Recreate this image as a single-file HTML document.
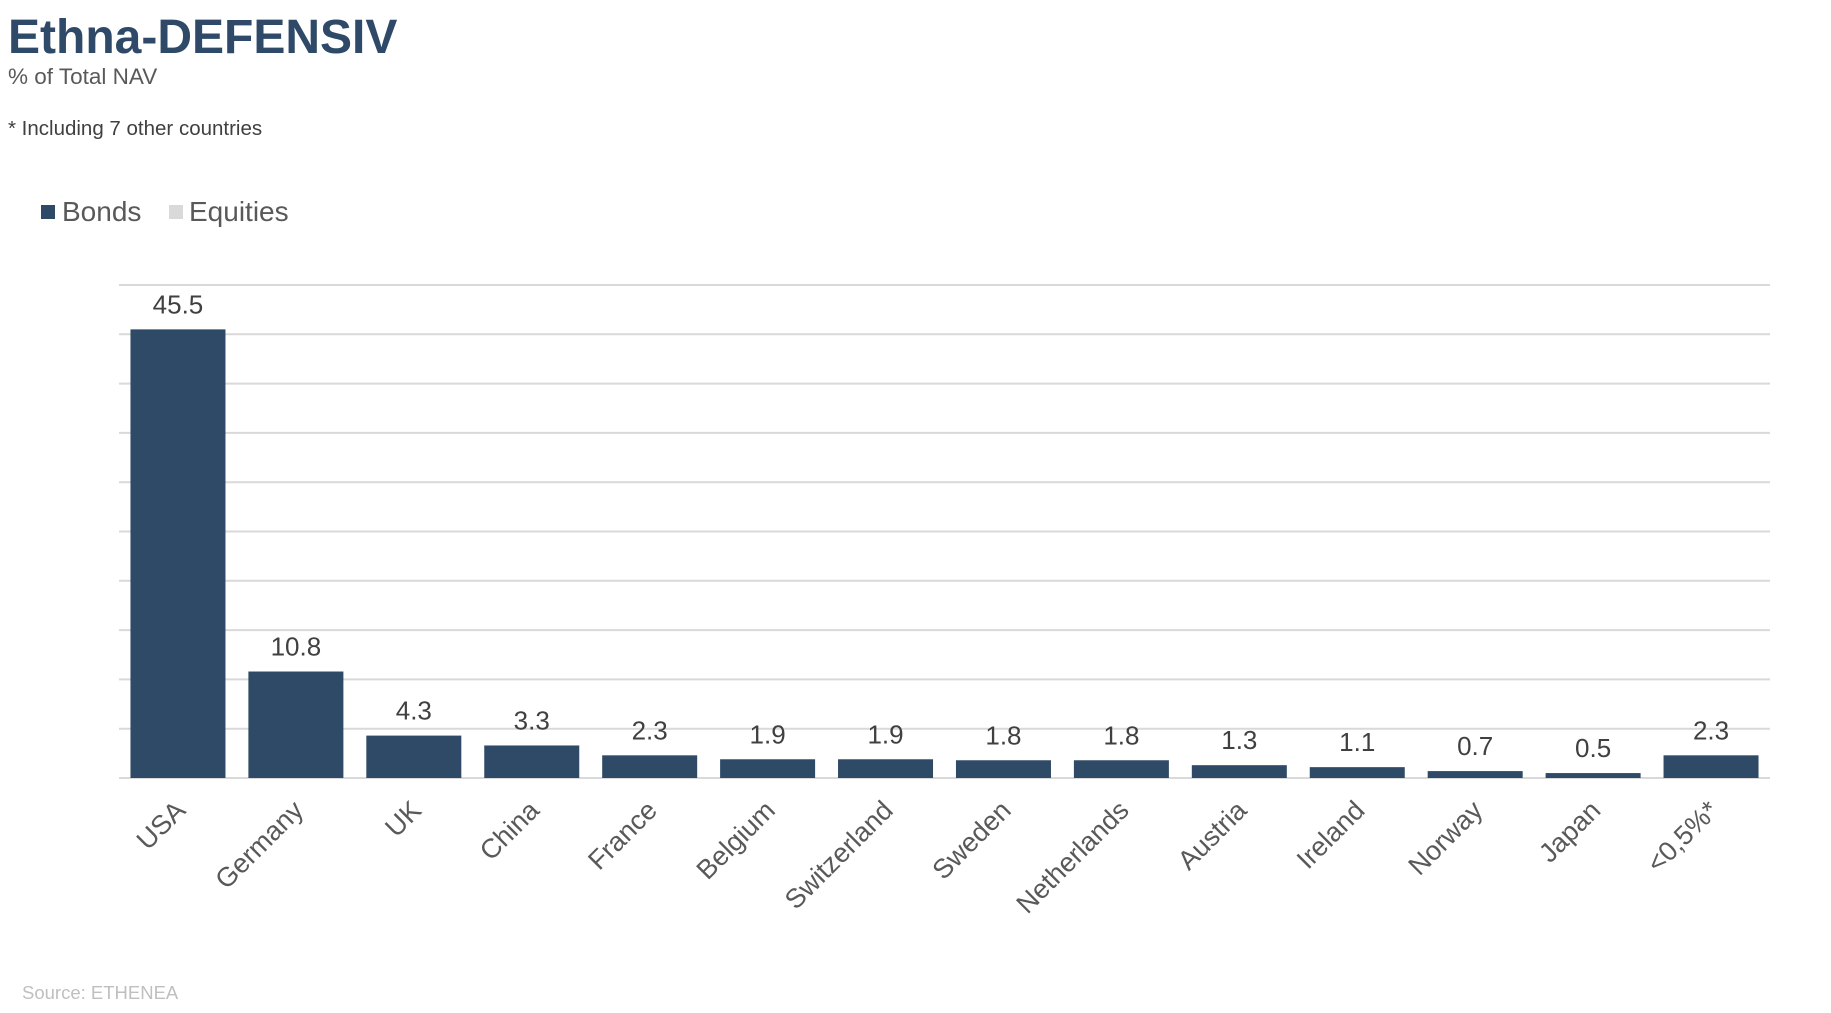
<!DOCTYPE html>
<html><head><meta charset="utf-8"><style>
body{margin:0;background:#fff;font-family:"Liberation Sans",Arial,sans-serif;}
svg{display:block}
</style></head><body>
<svg width="1831" height="1013" viewBox="0 0 1831 1013">
<text x="8" y="53" font-size="48" font-weight="bold" fill="#2e4a68">Ethna-DEFENSIV</text>
<text x="8" y="84" font-size="22.5" fill="#595959">% of Total NAV</text>
<text x="8" y="135" font-size="20.5" fill="#404040">* Including 7 other countries</text>
<g>
<rect x="41" y="205" width="14" height="14" fill="#2f4a66"/>
<text x="62" y="221" font-size="28" fill="#595959">Bonds</text>
<rect x="169" y="205" width="14" height="14" fill="#d9d9d9"/>
<text x="189" y="221" font-size="28" fill="#595959">Equities</text>
</g>
<g id="grid"></g>
<g id="bars"></g>
<g id="vals"></g>
<g id="cats"></g>
<text x="22" y="999" font-size="18.5" fill="#bfbfbf">Source: ETHENEA</text>
</svg>
<script>
const categories = ["USA","Germany","UK","China","France","Belgium","Switzerland","Sweden","Netherlands","Austria","Ireland","Norway","Japan","<0,5%*"];
const bonds = [45.5,10.8,4.3,3.3,2.3,1.9,1.9,1.8,1.8,1.3,1.1,0.7,0.5,2.3];
const valueLabels = ["45.5","10.8","4.3","3.3","2.3","1.9","1.9","1.8","1.8","1.3","1.1","0.7","0.5","2.3"];
const yTicks = [0,5,10,15,20,25,30,35,40,45,50];

const NS="http://www.w3.org/2000/svg";
const X0=119, X1=1770, Y0=778, Y1=285, YMAX=50;
const slot=(X1-X0)/categories.length, bw=95;
function y(v){return Y0-(v/YMAX)*(Y0-Y1);}
function xc(i){return X0+slot*(i+0.5);}
const grid=document.getElementById('grid'), bars=document.getElementById('bars'), vals=document.getElementById('vals'), cats=document.getElementById('cats');
yTicks.forEach(t=>{
  const l=document.createElementNS(NS,'line');
  l.setAttribute('x1',X0);l.setAttribute('x2',X1);
  l.setAttribute('y1',y(t));l.setAttribute('y2',y(t));
  l.setAttribute('stroke','#d9d9d9');l.setAttribute('stroke-width','2');
  
  
  grid.appendChild(l);
});
bonds.forEach((v,i)=>{
  const r=document.createElementNS(NS,'rect');
  r.setAttribute('x',xc(i)-bw/2);r.setAttribute('width',bw);
  r.setAttribute('y',y(v));r.setAttribute('height',Y0-y(v));
  r.setAttribute('fill','#2f4a66');
  
  
  bars.appendChild(r);
  const t=document.createElementNS(NS,'text');
  t.setAttribute('x',xc(i));t.setAttribute('y',y(v)-16);
  t.setAttribute('text-anchor','middle');t.setAttribute('font-size','26');t.setAttribute('fill','#404040');
  t.textContent=valueLabels[i];
  
  
  vals.appendChild(t);
  const c=document.createElementNS(NS,'text');
  const cx=xc(i)+9, cy=812;
  c.setAttribute('x',cx);c.setAttribute('y',cy);
  c.setAttribute('text-anchor','end');c.setAttribute('font-size','27');c.setAttribute('fill','#595959');
  c.setAttribute('transform','rotate(-45 '+cx+' '+cy+')');
  c.textContent=categories[i];
  
  
  cats.appendChild(c);
});
</script>
</body></html>
